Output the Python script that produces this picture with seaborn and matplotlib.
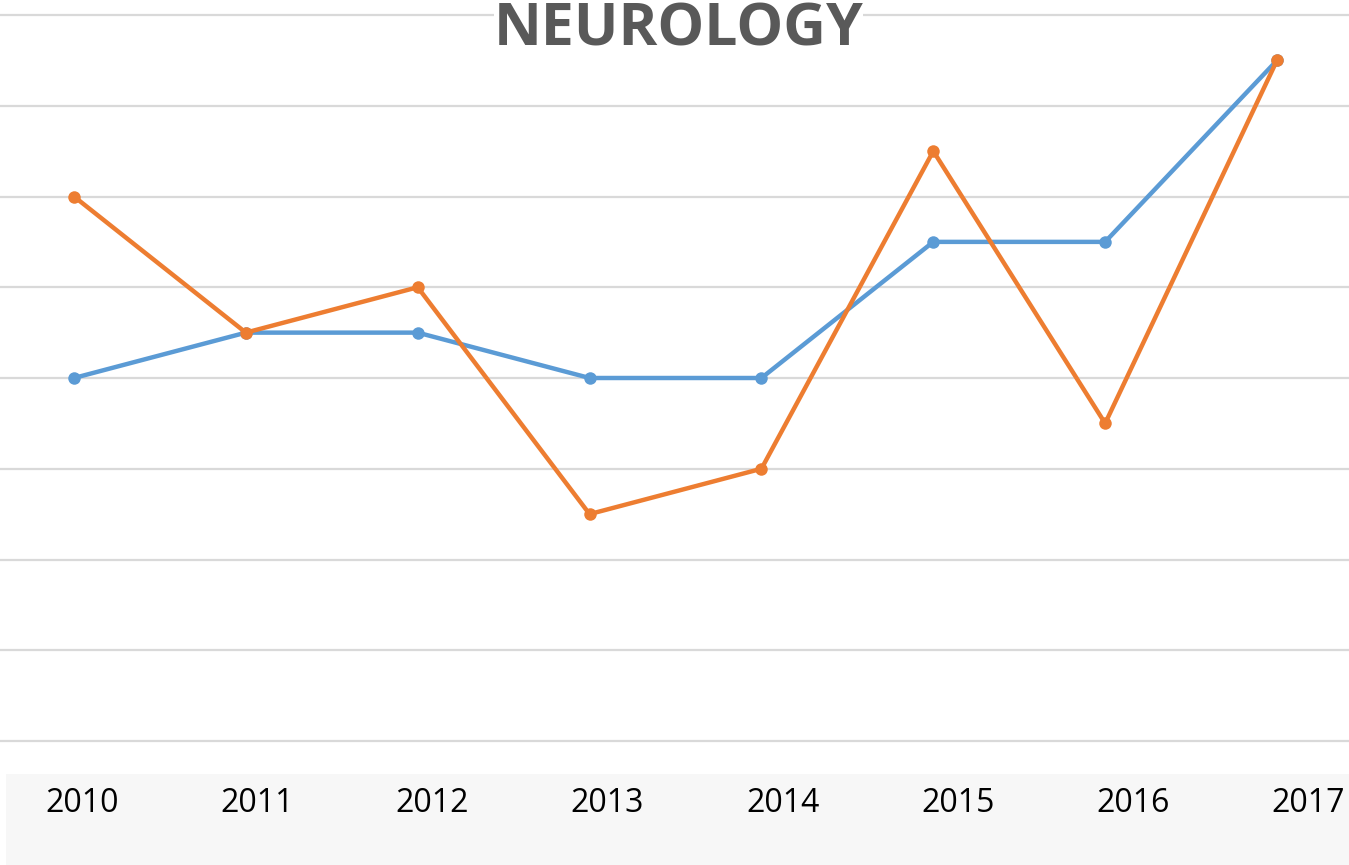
import pandas as pd
import numpy as np
import matplotlib.pyplot as plt
import seaborn as sns

# Chart data (in grid steps)
years = ['2010', '2011', '2012', '2013', '2014', '2015', '2016', '2017']
series_blue = [4, 4.5, 4.5, 4, 4, 5.5, 5.5, 7.5]
series_orange = [6, 4.5, 5, 2.5, 3, 6.5, 3.5, 7.5]

df = pd.DataFrame({
    'idx': list(range(len(years))) * 2,
    'value': series_blue + series_orange,
    'series': ['blue'] * len(years) + ['orange'] * len(years),
})

sns.set_theme(style='white')
plt.rcParams['font.family'] = ['Open Sans', 'DejaVu Sans']

W, H = 1349, 865
fig = plt.figure(figsize=(W / 100, H / 100), dpi=100)

# main plotting area: top 0..773 px
ax = fig.add_axes([0, (H - 773) / H, 1, 773 / H])
ax.set_xlim(-74 / 171.86, 7 + 72 / 171.86)
ax.set_ylim(-(773 - 741) / 90.75, 8 + 15 / 90.75)

for g in range(0, 9):
    ax.axhline(g, color='#d9d9d9', lw=1.6, zorder=0)

sns.lineplot(data=df, x='idx', y='value', hue='series',
             palette={'blue': '#5b9bd5', 'orange': '#ed7d31'},
             marker='o', markersize=9, markeredgewidth=0,
             linewidth=3.2, legend=False, ax=ax, zorder=3)

ax.set_axis_off()

ax.text(0.503, 1 - 30 / 773, 'NEUROLOGY', transform=ax.transAxes,
        ha='center', va='center', fontsize=42.5, fontweight='bold', color='#595959',
        bbox=dict(facecolor='white', edgecolor='none', pad=0), zorder=5)

# grey band with year labels
band = fig.add_axes([6 / W, 0, (W - 6) / W, (H - 774) / H])
band.set_facecolor('#f7f7f7')
band.set_xlim(-(82 - 6) / 175.1, 7 + (W - 1308) / 175.1)
band.set_ylim(0, 1)
for spine in band.spines.values():
    spine.set_visible(False)
band.set_xticks([])
band.set_yticks([])
for i, yr in enumerate(years):
    band.text(i, 1 - 29 / 91, yr, ha='center', va='center', fontsize=23, color='black')

fig.savefig('out.png', dpi=100)
